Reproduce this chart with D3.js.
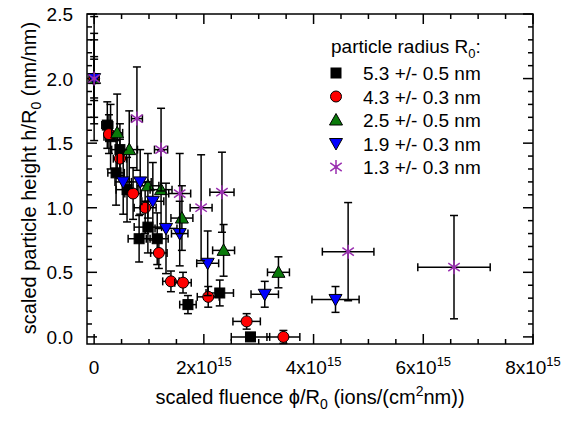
<!DOCTYPE html>
<html>
<head>
<meta charset="utf-8">
<script src="https://cdn.jsdelivr.net/npm/d3@7"></script>
<style>
  body { margin: 0; background: #fff; }
  svg { font-family: "Liberation Sans", Arial, sans-serif; }
</style>
</head>
<body>
<svg width="577" height="421"></svg>
<script>
// values, fluence in units of 1e15
var blackX  = [0, 0.24, 0.30, 0.47, 0.40, 0.60, 0.82, 0.98, 1.15, 1.71, 2.29, 2.85];
var blackH  = [2.0, 1.64, 1.55, 1.45, 1.27, 1.14, 0.76, 0.85, 0.76, 0.25, 0.34, 0.0];
var blackXe = [0, 0.10, 0.12, 0.15, 0.15, 0.20, 0.20, 0.25, 0.20, 0.15, 0.25, 0.35];
var blackHe = [0.17, 0.18, 0.25, 0.20, 0.25, 0.25, 0.18, 0.20, 0.20, 0.07, 0.10, 0.03];

var redX  = [0, 0.27, 0.47, 0.71, 0.93, 1.18, 1.40, 1.62, 2.08, 2.78, 3.45];
var redH  = [2.0, 1.57, 1.38, 1.11, 1.0, 0.65, 0.43, 0.42, 0.31, 0.12, 0.0];
var redXe = [0, 0.08, 0.12, 0.15, 0.20, 0.15, 0.15, 0.15, 0.20, 0.25, 0.30];
var redHe = [0.15, 0.15, 0.15, 0.20, 0.20, 0.12, 0.08, 0.08, 0.08, 0.06, 0.05];

var greenX  = [0, 0.42, 0.64, 0.98, 1.22, 1.60, 2.36, 3.36];
var greenH  = [2.0, 1.58, 1.45, 1.17, 1.14, 0.92, 0.67, 0.50];
var greenXe = [0, 0.10, 0.15, 0.20, 0.20, 0.20, 0.20, 0.20];
var greenHe = [0.35, 0.30, 0.30, 0.25, 0.30, 0.25, 0.20, 0.12];

var blueX  = [0, 0.53, 0.84, 1.07, 1.31, 1.56, 2.07, 3.11, 4.40];
var blueH  = [2.0, 1.20, 1.20, 1.05, 0.84, 0.80, 0.57, 0.33, 0.29];
var blueXe = [0, 0.15, 0.20, 0.20, 0.20, 0.15, 0.20, 0.25, 0.43];
var blueHe = [0.30, 0.25, 0.25, 0.30, 0.35, 0.25, 0.25, 0.10, 0.10];

var purpleX  = [0, 0.78, 1.22, 1.56, 1.95, 2.33, 4.63, 6.56];
var purpleH  = [2.0, 1.69, 1.45, 1.11, 1.00, 1.12, 0.66, 0.54];
var purpleXe = [0, 0.10, 0.12, 0.20, 0.20, 0.22, 0.47, 0.66];
var purpleHe = [0.48, 0.40, 0.32, 0.31, 0.41, 0.31, 0.38, 0.40];

var legendTitle = "particle radius R";
var legendLabels = ["5.3 +/- 0.5 nm", "4.3 +/- 0.3 nm", "2.5 +/- 0.5 nm", "1.9 +/- 0.3 nm", "1.3 +/- 0.3 nm"];
var xTickVals = [0, 2, 4, 6, 8];
var yTickVals = [0, 0.5, 1.0, 1.5, 2.0, 2.5];

var series = [
  { x: blackX,  h: blackH,  xe: blackXe,  he: blackHe,  shape: "square",  fill: "#000000" },
  { x: redX,    h: redH,    xe: redXe,    he: redHe,    shape: "circle",  fill: "#ff0000" },
  { x: greenX,  h: greenH,  xe: greenXe,  he: greenHe,  shape: "up",      fill: "#0a7a0a" },
  { x: blueX,   h: blueH,   xe: blueXe,   he: blueHe,   shape: "down",    fill: "#0000ff" },
  { x: purpleX, h: purpleH, xe: purpleXe, he: purpleHe, shape: "star",    fill: "#9a2fb0" }
];

var svg = d3.select("svg");
var pLeft = 87, pRight = 533, pTop = 14, pBottom = 344;

var x = d3.scaleLinear().domain([-0.13, 8]).range([pLeft, pRight]);
var y = d3.scaleLinear().domain([-0.055, 2.5]).range([pBottom, pTop]);

// frame
svg.append("rect")
  .attr("x", pLeft).attr("y", pTop)
  .attr("width", pRight - pLeft).attr("height", pBottom - pTop)
  .attr("fill", "none").attr("stroke", "#000").attr("stroke-width", 1.5);

// ticks on all four sides, pointing in
var xMinor = d3.range(0, 8.01, 0.5);
var yMinor = d3.range(0, 2.501, 0.1);
var ticks = svg.append("g").attr("stroke", "#000").attr("stroke-width", 1.5);
xMinor.forEach(function(v) {
  var major = Math.abs(v / 2 - Math.round(v / 2)) < 1e-6;
  var len = major ? 10 : 5;
  ticks.append("line").attr("x1", x(v)).attr("x2", x(v)).attr("y1", pBottom).attr("y2", pBottom - len);
  ticks.append("line").attr("x1", x(v)).attr("x2", x(v)).attr("y1", pTop).attr("y2", pTop + len);
});
yMinor.forEach(function(v) {
  var major = Math.abs(v / 0.5 - Math.round(v / 0.5)) < 1e-6;
  var len = major ? 10 : 5;
  ticks.append("line").attr("x1", pLeft).attr("x2", pLeft + len).attr("y1", y(v)).attr("y2", y(v));
  ticks.append("line").attr("x1", pRight).attr("x2", pRight - len).attr("y1", y(v)).attr("y2", y(v));
});

// tick labels
svg.append("g").selectAll("text").data(yTickVals).enter().append("text")
  .attr("x", 73).attr("y", function(d) { return y(d) + 7; })
  .attr("text-anchor", "end").attr("font-size", 19)
  .text(function(d) { return d.toFixed(1); });

var xl = svg.append("g").selectAll("text").data(xTickVals).enter().append("text")
  .attr("x", function(d) { return x(d); }).attr("y", 374)
  .attr("text-anchor", "middle").attr("font-size", 19);
xl.each(function(d) {
  var t = d3.select(this);
  if (d === 0) { t.text("0"); return; }
  t.append("tspan").text(d + "x10");
  t.append("tspan").attr("font-size", 13).attr("dy", -8).text("15");
});

// axis titles
var xt = svg.append("text").attr("x", 310).attr("y", 404)
  .attr("text-anchor", "middle").attr("font-size", 20);
xt.append("tspan").text("scaled fluence \u03d5/R");
xt.append("tspan").attr("font-size", 14).attr("dy", 5).text("0");
xt.append("tspan").attr("dy", -5).text(" (ions/(cm");
xt.append("tspan").attr("font-size", 14).attr("dy", -8).text("2");
xt.append("tspan").attr("dy", 8).text("nm))");

var yt = svg.append("text").attr("transform", "translate(36,178) rotate(-90)")
  .attr("text-anchor", "middle").attr("font-size", 20);
yt.append("tspan").text("scaled particle height h/R");
yt.append("tspan").attr("font-size", 14).attr("dy", 5).text("0");
yt.append("tspan").attr("dy", -5).text(" (nm/nm)");

function drawMarker(g, shape, fill, cx, cy) {
  if (shape === "square") {
    g.append("rect").attr("x", cx - 5).attr("y", cy - 5).attr("width", 10).attr("height", 10)
      .attr("fill", fill).attr("stroke", "#000").attr("stroke-width", 1);
  } else if (shape === "circle") {
    g.append("circle").attr("cx", cx).attr("cy", cy).attr("r", 5.5)
      .attr("fill", fill).attr("stroke", "#000").attr("stroke-width", 1);
  } else if (shape === "up") {
    g.append("path").attr("d", "M" + cx + "," + (cy - 6.5) + "L" + (cx + 6.5) + "," + (cy + 5) + "L" + (cx - 6.5) + "," + (cy + 5) + "Z")
      .attr("fill", fill).attr("stroke", "#000").attr("stroke-width", 1);
  } else if (shape === "down") {
    g.append("path").attr("d", "M" + cx + "," + (cy + 6.5) + "L" + (cx + 6.5) + "," + (cy - 5) + "L" + (cx - 6.5) + "," + (cy - 5) + "Z")
      .attr("fill", fill).attr("stroke", "#000").attr("stroke-width", 1);
  } else {
    var r = 7, p = "";
    [90, 35, -35].forEach(function(a) {
      var rad = a * Math.PI / 180, dx = r * Math.cos(rad), dy = r * Math.sin(rad);
      p += "M" + (cx - dx) + "," + (cy - dy) + "L" + (cx + dx) + "," + (cy + dy);
    });
    g.append("path").attr("d", p).attr("stroke", fill).attr("stroke-width", 1.5).attr("fill", "none");
    g.append("circle").attr("cx", cx).attr("cy", cy).attr("r", 1.8).attr("fill", fill);
  }
}

// error bars + markers, in legend order (purple ends on top)
var plot = svg.append("g");
series.forEach(function(s) {
  var g = plot.append("g");
  s.x.forEach(function(v, i) {
    var cx = x(v), cy = y(s.h[i]);
    var eb = g.append("g").attr("stroke", "#000").attr("stroke-width", 1.5);
    var y0 = y(s.h[i] - s.he[i]), y1 = y(s.h[i] + s.he[i]);
    eb.append("line").attr("x1", cx).attr("x2", cx).attr("y1", y0).attr("y2", y1);
    eb.append("line").attr("x1", cx - 4).attr("x2", cx + 4).attr("y1", y0).attr("y2", y0);
    eb.append("line").attr("x1", cx - 4).attr("x2", cx + 4).attr("y1", y1).attr("y2", y1);
    if (s.xe[i] > 0) {
      var x0 = x(v - s.xe[i]), x1 = x(v + s.xe[i]);
      eb.append("line").attr("x1", x0).attr("x2", x1).attr("y1", cy).attr("y2", cy);
      eb.append("line").attr("x1", x0).attr("x2", x0).attr("y1", cy - 4).attr("y2", cy + 4);
      eb.append("line").attr("x1", x1).attr("x2", x1).attr("y1", cy - 4).attr("y2", cy + 4);
    }
    drawMarker(g, s.shape, s.fill, cx, cy);
  });
});

// legend
var lg = svg.append("g");
var lt = lg.append("text").attr("x", 331).attr("y", 53).attr("font-size", 19);
lt.append("tspan").text(legendTitle);
lt.append("tspan").attr("font-size", 13).attr("dy", 5).text("0");
lt.append("tspan").attr("dy", -5).text(":");
legendLabels.forEach(function(lab, i) {
  var cy = 73 + i * 23.5;
  drawMarker(lg, series[i].shape, series[i].fill, 336, cy);
  lg.append("text").attr("x", 363).attr("y", cy + 7).attr("font-size", 19).text(lab);
});
</script>
</body>
</html>
